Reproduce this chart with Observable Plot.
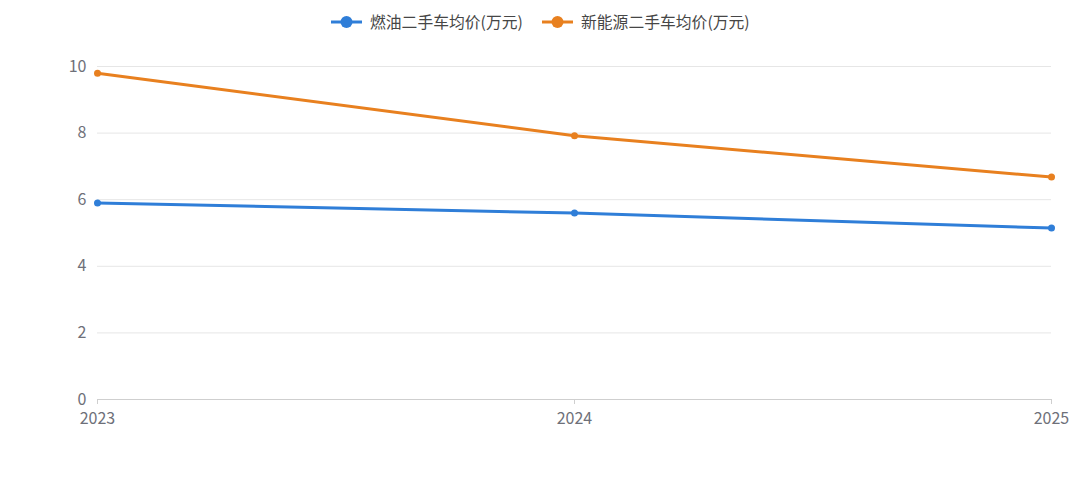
<!DOCTYPE html>
<html>
<head>
<meta charset="utf-8">
<script src="https://cdn.jsdelivr.net/npm/d3@7"></script>
<script src="https://cdn.jsdelivr.net/npm/@observablehq/plot@0.6"></script>
<style>
  body { margin: 0; background: #fff; font-family: "Noto Sans CJK SC", "Noto Sans", sans-serif; }
  #legend { height: 42px; position: relative; width: 1080px; }
  .item { position: absolute; top: 10px; display: flex; align-items: center; font-size: 15.8px; color: #464646; }
  .item svg { margin-right: 7px; }
</style>
</head>
<body>
<div id="legend"></div>
<div id="chart"></div>
<script>
const years = ["2023", "2024", "2025"];
const seriesNames = ["燃油二手车均价(万元)", "新能源二手车均价(万元)"];
const fuelValues = [5.9, 5.6, 5.15];
const nevValues = [9.8, 7.92, 6.68];
const yTicks = [0, 2, 4, 6, 8, 10];
const colors = ["#2f7ed8", "#e8801f"];

const rows = [];
years.forEach((y, i) => {
  rows.push({year: y, value: fuelValues[i], series: seriesNames[0]});
  rows.push({year: y, value: nevValues[i], series: seriesNames[1]});
});

// legend
const legend = document.getElementById("legend");
const lefts = [330, 541];
seriesNames.forEach((name, i) => {
  const d = document.createElement("div");
  d.className = "item";
  d.style.left = lefts[i] + "px";
  d.innerHTML = `<svg width="33" height="16"><line x1="1" x2="32" y1="8" y2="8" stroke="${colors[i]}" stroke-width="3"/><circle cx="16.5" cy="8" r="6" fill="${colors[i]}"/></svg><span>${name}</span>`;
  legend.appendChild(d);
});

const chart = Plot.plot({
  width: 1080,
  height: 445,
  marginTop: 24,
  marginBottom: 88,
  marginLeft: 97,
  marginRight: 29,
  style: {fontFamily: "'Noto Sans CJK SC', 'Noto Sans', sans-serif", fontSize: "16px"},
  x: {type: "point", domain: years, padding: 0},
  y: {domain: [0, 10]},
  color: {domain: seriesNames, range: colors},
  marks: [
    Plot.ruleY(yTicks.filter(d => d > 0), {stroke: "#e6e6e6", strokeWidth: 1}),
    Plot.ruleY([0], {stroke: "#cfcfcf", strokeWidth: 1}),
    Plot.axisX({tickSize: 5, tickPadding: 8, stroke: "#cfcfcf", fill: "#6e7079", label: null, fontSize: 16}),
    Plot.axisY({ticks: yTicks, tickSize: 0, tickPadding: 11, fill: "#6e7079", label: null, fontSize: 16}),
    Plot.line(rows, {x: "year", y: "value", z: "series", stroke: "series", strokeWidth: 3}),
    Plot.dot(rows, {x: "year", y: "value", fill: "series", r: 3.5})
  ]
});
document.getElementById("chart").appendChild(chart);
</script>
</body>
</html>
